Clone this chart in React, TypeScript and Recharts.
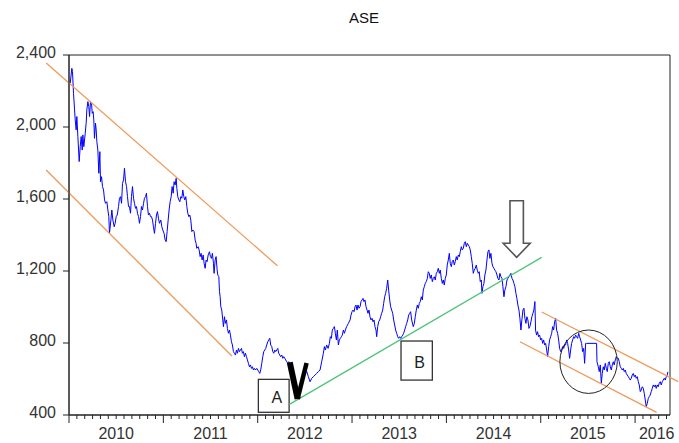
import React from 'react';
import { LineChart, Line, XAxis, YAxis, ReferenceLine, ReferenceArea, ReferenceDot } from 'recharts';

// ASE General Index (fractional year, index value)
const ase2010: [number, number][] = [
  [2010.013, 2243], [2010.030, 2326], [2010.037, 2308], [2010.048, 2187], [2010.059, 2095], [2010.066, 2039],
  [2010.076, 1984], [2010.083, 2058], [2010.094, 1947], [2010.108, 1808], [2010.119, 1891], [2010.129, 1947],
  [2010.140, 1872], [2010.147, 1956], [2010.157, 1891], [2010.172, 1965], [2010.182, 2021], [2010.189, 2095],
  [2010.200, 2141], [2010.210, 2113], [2010.218, 2058], [2010.228, 2141], [2010.239, 2132], [2010.246, 2076],
  [2010.256, 2085], [2010.263, 2039], [2010.270, 1937], [2010.281, 2021], [2010.288, 1984], [2010.295, 1919],
  [2010.306, 1872], [2010.316, 1743], [2010.327, 1863], [2010.334, 1696], [2010.345, 1724], [2010.355, 1669],
  [2010.366, 1650], [2010.377, 1595], [2010.387, 1576], [2010.401, 1585], [2010.412, 1539], [2010.422, 1502],
  [2010.429, 1409], [2010.444, 1483], [2010.454, 1539], [2010.465, 1483], [2010.479, 1446], [2010.489, 1465],
  [2010.500, 1502], [2010.511, 1511], [2010.525, 1558], [2010.535, 1604], [2010.546, 1613], [2010.557, 1576],
  [2010.567, 1687], [2010.578, 1706], [2010.588, 1771], [2010.599, 1696], [2010.610, 1669], [2010.620, 1613],
  [2010.631, 1558], [2010.641, 1558], [2010.652, 1521], [2010.662, 1613], [2010.673, 1669], [2010.684, 1604],
  [2010.694, 1576], [2010.705, 1548], [2010.715, 1558], [2010.726, 1521], [2010.737, 1502], [2010.747, 1465],
  [2010.758, 1502], [2010.768, 1558], [2010.779, 1539], [2010.790, 1576], [2010.800, 1604], [2010.811, 1613],
  [2010.821, 1632], [2010.832, 1558], [2010.842, 1511], [2010.853, 1521], [2010.864, 1502], [2010.874, 1502],
  [2010.885, 1483], [2010.895, 1446], [2010.906, 1409], [2010.917, 1465], [2010.927, 1511], [2010.938, 1530],
  [2010.948, 1493], [2010.959, 1465], [2010.973, 1483], [2010.984, 1446], [2010.994, 1428],
];
const ase2011: [number, number][] = [
  [2011.008, 1409], [2011.019, 1372], [2011.030, 1363], [2011.040, 1419], [2011.051, 1483], [2011.061, 1539],
  [2011.072, 1585], [2011.083, 1613], [2011.093, 1669], [2011.104, 1632], [2011.114, 1696], [2011.125, 1678],
  [2011.136, 1715], [2011.143, 1659], [2011.153, 1613], [2011.164, 1595], [2011.175, 1585], [2011.185, 1613],
  [2011.196, 1604], [2011.206, 1650], [2011.217, 1613], [2011.227, 1595], [2011.238, 1613], [2011.249, 1558],
  [2011.259, 1521], [2011.270, 1502], [2011.280, 1511], [2011.291, 1483], [2011.302, 1419], [2011.312, 1428],
  [2011.326, 1419], [2011.337, 1372], [2011.347, 1354], [2011.354, 1326], [2011.369, 1335], [2011.379, 1317],
  [2011.390, 1280], [2011.400, 1298], [2011.411, 1261], [2011.422, 1289], [2011.432, 1243], [2011.443, 1215],
  [2011.453, 1261], [2011.464, 1252], [2011.475, 1289], [2011.489, 1307], [2011.499, 1280], [2011.510, 1270],
  [2011.520, 1298], [2011.531, 1243], [2011.538, 1187], [2011.549, 1261], [2011.559, 1280], [2011.570, 1206],
  [2011.577, 1178], [2011.588, 1169], [2011.595, 1085], [2011.602, 1057], [2011.609, 1002], [2011.619, 983],
  [2011.630, 928], [2011.637, 891], [2011.648, 946], [2011.658, 909], [2011.669, 928], [2011.679, 881],
  [2011.690, 854], [2011.701, 872], [2011.711, 844], [2011.722, 807], [2011.732, 789], [2011.743, 752],
  [2011.753, 743], [2011.764, 733], [2011.775, 761], [2011.785, 743], [2011.796, 770], [2011.806, 752],
  [2011.817, 761], [2011.828, 770], [2011.838, 743], [2011.849, 752], [2011.859, 724], [2011.870, 743],
  [2011.881, 724], [2011.891, 706], [2011.902, 687], [2011.912, 668], [2011.923, 678], [2011.934, 659],
  [2011.944, 668], [2011.955, 650], [2011.965, 659], [2011.976, 650], [2011.990, 659],
];
const ase2012: [number, number][] = [
  [2012.001, 650], [2012.011, 641], [2012.022, 631], [2012.032, 650], [2012.043, 687], [2012.054, 724],
  [2012.064, 752], [2012.075, 761], [2012.085, 770], [2012.096, 789], [2012.107, 807], [2012.117, 817],
  [2012.128, 826], [2012.138, 789], [2012.149, 780], [2012.160, 752], [2012.170, 743], [2012.181, 761],
  [2012.191, 752], [2012.202, 761], [2012.213, 770], [2012.223, 743], [2012.234, 733], [2012.244, 724],
  [2012.255, 733], [2012.266, 715], [2012.276, 724], [2012.287, 715], [2012.297, 706], [2012.308, 696],
  [2012.319, 687], [2012.329, 696], [2012.340, 691], [2012.360, 640], [2012.380, 575], [2012.400, 525],
  [2012.423, 489], [2012.445, 540], [2012.465, 590], [2012.485, 640], [2012.502, 631], [2012.520, 641],
  [2012.537, 613], [2012.555, 585], [2012.573, 604], [2012.590, 613], [2012.608, 622], [2012.625, 631],
  [2012.643, 641], [2012.661, 650], [2012.678, 696], [2012.696, 743], [2012.707, 780], [2012.717, 761],
  [2012.731, 789], [2012.746, 770], [2012.760, 798], [2012.770, 835], [2012.781, 826], [2012.791, 872],
  [2012.802, 881], [2012.813, 891], [2012.823, 854], [2012.834, 817], [2012.844, 872], [2012.855, 789],
  [2012.866, 817], [2012.876, 826], [2012.887, 835], [2012.897, 844], [2012.908, 872], [2012.919, 854],
  [2012.929, 872], [2012.943, 891], [2012.961, 909], [2012.979, 928], [2012.989, 955],
];
const ase2013: [number, number][] = [
  [2013.000, 974], [2013.010, 983], [2013.021, 974], [2013.032, 1002], [2013.042, 1011], [2013.053, 983],
  [2013.063, 1011], [2013.074, 993], [2013.085, 1002], [2013.095, 1030], [2013.106, 1039], [2013.116, 1048],
  [2013.127, 1030], [2013.137, 1039], [2013.148, 1002], [2013.159, 983], [2013.169, 965], [2013.180, 983],
  [2013.190, 946], [2013.201, 928], [2013.212, 937], [2013.222, 918], [2013.233, 928], [2013.243, 891],
  [2013.254, 872], [2013.261, 835], [2013.272, 891], [2013.282, 918], [2013.293, 928], [2013.303, 946],
  [2013.314, 965], [2013.325, 983], [2013.335, 1020], [2013.346, 1057], [2013.356, 1076], [2013.367, 1104],
  [2013.378, 1150], [2013.388, 1094], [2013.399, 1039], [2013.409, 1002], [2013.420, 983], [2013.431, 965],
  [2013.441, 928], [2013.452, 900], [2013.462, 872], [2013.473, 854], [2013.484, 835], [2013.494, 826],
  [2013.505, 835], [2013.515, 826], [2013.526, 835], [2013.537, 844], [2013.547, 854], [2013.558, 872],
  [2013.568, 891], [2013.579, 909], [2013.590, 928], [2013.600, 955], [2013.611, 965], [2013.621, 974],
  [2013.632, 928], [2013.649, 891], [2013.660, 909], [2013.670, 946], [2013.681, 983], [2013.692, 1011],
  [2013.702, 993], [2013.713, 1020], [2013.723, 1030], [2013.734, 1057], [2013.745, 1039], [2013.755, 1094],
  [2013.766, 1113], [2013.776, 1131], [2013.787, 1141], [2013.798, 1159], [2013.808, 1196], [2013.819, 1187],
  [2013.829, 1159], [2013.840, 1178], [2013.851, 1141], [2013.861, 1159], [2013.872, 1168], [2013.882, 1150],
  [2013.893, 1187], [2013.904, 1196], [2013.914, 1215], [2013.925, 1187], [2013.935, 1205], [2013.946, 1159],
  [2013.957, 1131], [2013.967, 1150], [2013.978, 1122], [2013.988, 1159], [2013.999, 1178],
];
const ase2014: [number, number][] = [
  [2014.009, 1233], [2014.020, 1261], [2014.031, 1298], [2014.041, 1243], [2014.052, 1224], [2014.062, 1252],
  [2014.073, 1261], [2014.084, 1233], [2014.094, 1252], [2014.105, 1280], [2014.115, 1261], [2014.126, 1289],
  [2014.137, 1280], [2014.147, 1307], [2014.158, 1335], [2014.168, 1317], [2014.179, 1326], [2014.190, 1354],
  [2014.200, 1363], [2014.211, 1335], [2014.221, 1354], [2014.232, 1344], [2014.243, 1335], [2014.253, 1317],
  [2014.264, 1280], [2014.274, 1243], [2014.285, 1187], [2014.295, 1205], [2014.306, 1215], [2014.317, 1233],
  [2014.327, 1205], [2014.338, 1187], [2014.348, 1196], [2014.359, 1141], [2014.370, 1150], [2014.377, 1076],
  [2014.387, 1113], [2014.398, 1131], [2014.408, 1178], [2014.419, 1205], [2014.430, 1261], [2014.440, 1307],
  [2014.451, 1317], [2014.461, 1270], [2014.472, 1298], [2014.483, 1243], [2014.493, 1224], [2014.504, 1215],
  [2014.514, 1205], [2014.525, 1196], [2014.536, 1178], [2014.546, 1159], [2014.557, 1150], [2014.567, 1187],
  [2014.578, 1168], [2014.589, 1159], [2014.599, 1113], [2014.610, 1057], [2014.620, 1094], [2014.631, 1113],
  [2014.642, 1150], [2014.652, 1159], [2014.663, 1168], [2014.673, 1178], [2014.684, 1187], [2014.695, 1159],
  [2014.705, 1150], [2014.716, 1131], [2014.726, 1113], [2014.737, 1076], [2014.747, 1048], [2014.758, 1011],
  [2014.769, 983], [2014.779, 937], [2014.790, 872], [2014.800, 928], [2014.811, 983], [2014.822, 993],
  [2014.832, 937], [2014.843, 909], [2014.853, 946], [2014.864, 928], [2014.875, 881], [2014.885, 891],
  [2014.896, 918], [2014.906, 946], [2014.917, 965], [2014.927, 983], [2014.938, 1030], [2014.945, 872],
  [2014.956, 844], [2014.966, 863], [2014.977, 835], [2014.988, 844],
];
const ase2015: [number, number][] = [
  [2014.999, 817], [2015.010, 826], [2015.020, 798], [2015.031, 817], [2015.041, 789], [2015.052, 798],
  [2015.063, 761], [2015.073, 724], [2015.084, 780], [2015.094, 817], [2015.105, 835], [2015.116, 854],
  [2015.126, 891], [2015.137, 872], [2015.147, 918], [2015.158, 937], [2015.168, 872], [2015.179, 854],
  [2015.190, 817], [2015.200, 770], [2015.211, 752], [2015.221, 761], [2015.232, 780], [2015.243, 770],
  [2015.253, 789], [2015.264, 789], [2015.274, 817], [2015.285, 798], [2015.296, 761], [2015.306, 715],
  [2015.317, 761], [2015.327, 798], [2015.338, 817], [2015.349, 835], [2015.359, 826], [2015.370, 844],
  [2015.380, 835], [2015.391, 826], [2015.402, 854], [2015.412, 835], [2015.423, 817], [2015.433, 798],
  [2015.444, 752], [2015.455, 770], [2015.465, 687], [2015.476, 798], [2015.486, 798], [2015.592, 798],
  [2015.596, 696], [2015.610, 668], [2015.620, 641], [2015.631, 678], [2015.642, 576], [2015.652, 631],
  [2015.663, 668], [2015.673, 650], [2015.684, 687], [2015.695, 659], [2015.705, 641], [2015.716, 687],
  [2015.726, 696], [2015.737, 668], [2015.748, 650], [2015.758, 678], [2015.769, 696], [2015.779, 678],
  [2015.790, 706], [2015.801, 724], [2015.811, 715], [2015.822, 715], [2015.832, 696], [2015.843, 668],
  [2015.854, 659], [2015.864, 650], [2015.875, 659], [2015.885, 641], [2015.896, 650], [2015.906, 631],
  [2015.917, 622], [2015.928, 613], [2015.938, 604], [2015.949, 594], [2015.959, 604], [2015.970, 622],
  [2015.981, 631], [2015.991, 613],
];
const ase2016: [number, number][] = [
  [2016.002, 622], [2016.012, 604], [2016.023, 613], [2016.034, 585], [2016.044, 567], [2016.055, 530],
  [2016.065, 539], [2016.076, 557], [2016.087, 548], [2016.097, 520], [2016.108, 483], [2016.118, 446],
  [2016.129, 465], [2016.140, 492], [2016.150, 502], [2016.161, 511], [2016.171, 530], [2016.182, 548],
  [2016.193, 567], [2016.203, 557], [2016.214, 567], [2016.224, 548], [2016.235, 567], [2016.245, 557],
  [2016.256, 576], [2016.267, 585], [2016.277, 567], [2016.288, 585], [2016.298, 594], [2016.309, 604],
  [2016.320, 594], [2016.330, 613], [2016.341, 622], [2016.348, 640],
];

// Axes
const yearLabels = ['2010', '2011', '2012', '2013', '2014', '2015', '2016'];
const yTicks = [400, 800, 1200, 1600, 2000, 2400];
const xDomain: [number, number] = [2010, 2016.37];
const yDomain: [number, number] = [400, 2400];
const monthTicks = Array.from({ length: 77 }, (_, k) => 2010 + k / 12);

// Hand-drawn annotations (data coordinates)
const channelLines: [number, number, number, number][] = [
  [2009.758, 2356, 2012.209, 1229],
  [2009.758, 1761, 2011.726, 728],
  [2015.010, 972, 2016.457, 585],
  [2014.780, 807, 2016.228, 415],
];
const trendLine: [number, number, number, number] = [2012.336, 459, 2015.010, 1276];
const vMark: [number, number][] = [[2012.340, 692], [2012.423, 489], [2012.518, 689]];
const boxes = [
  { name: 'A', x1: 2012.007, x2: 2012.333, y1: 415, y2: 598 },
  { name: 'B', x1: 2013.519, x2: 2013.851, y1: 594, y2: 811 },
];
const circleCenter: [number, number] = [2015.507, 696];
const arrowTip: [number, number] = [2014.745, 1276];

const data = [...ase2010, ...ase2011, ...ase2012, ...ase2013, ...ase2014, ...ase2015, ...ase2016].map(
  ([t, v]) => ({ t, v })
);

const FONT = '"Liberation Sans", Arial, Helvetica, sans-serif';
const AXIS = '#222';

function XTick(props: any) {
  const { x, y, payload } = props;
  const k = Math.round((payload.value - 2010) * 12);
  const m = k % 12;
  const yr = Math.floor(k / 12);
  let label: string | null = null;
  let dx = 0;
  if (m === 6) label = yearLabels[yr];
  if (yr === yearLabels.length - 1 && m === 3) {
    label = yearLabels[yr];
    dx = -2;
  }
  return (
    <g>
      <line x1={x} x2={x} y1={y} y2={y + (m === 0 ? 8 : 4)} stroke={AXIS} strokeWidth={1} />
      {label && (
        <text x={x + dx} y={y + 24} textAnchor="middle" fontSize={16} fontFamily={FONT} fill="#333">
          {label}
        </text>
      )}
    </g>
  );
}

function YTick(props: any) {
  const { x, y, payload } = props;
  return (
    <text x={x} y={y + 3.2} textAnchor="end" fontSize={16} fontFamily={FONT} fill="#333">
      {Number(payload.value).toLocaleString('en-US')}
    </text>
  );
}

function BoxShape(name: string) {
  return (p: any) => {
    const { x, y, width, height } = p;
    return (
      <g>
        <rect x={x} y={y} width={width} height={height} fill="#fff" stroke="#333" strokeWidth={1.3} />
        <text
          x={x + width / 2 + 3}
          y={y + height / 2 + 1.5 + 5.7}
          textAnchor="middle"
          fontSize={16}
          fontFamily={FONT}
          fill="#222"
        >
          {name}
        </text>
      </g>
    );
  };
}

const CircleShape = (p: any) => (
  <ellipse cx={p.cx} cy={p.cy} rx={28.7} ry={31.7} fill="none" stroke="#222" strokeWidth={1} />
);

const ArrowShape = (p: any) => {
  const { cx, cy } = p;
  const d = `M${cx},${cy} L${cx - 13.5},${cy - 14} L${cx - 6.7},${cy - 14} L${cx - 6.7},${cy - 56.5} L${cx + 6.7},${cy - 56.5} L${cx + 6.7},${cy - 14} L${cx + 13.5},${cy - 14} Z`;
  return <path d={d} fill="#fff" stroke="#555" strokeWidth={1.6} strokeLinejoin="miter" />;
};

export default function App() {
  return (
    <div style={{ position: 'absolute', left: 0, top: 0, width: 679, height: 443, background: '#fff' }}>
      <div
        style={{
          position: 'absolute',
          left: 314,
          top: 9,
          width: 100,
          textAlign: 'center',
          fontFamily: FONT,
          fontSize: 15,
          lineHeight: '17px',
          color: '#111',
        }}
      >
        ASE
      </div>
      <LineChart width={679} height={443} data={data} margin={{ top: 55, right: 9, bottom: 0, left: 0 }}>
        <XAxis
          dataKey="t"
          type="number"
          domain={xDomain}
          allowDataOverflow
          ticks={monthTicks}
          interval={0}
          tick={<XTick />}
          tickLine={false}
          tickSize={0}
          tickMargin={0}
          axisLine={{ stroke: AXIS }}
          height={28}
        />
        <YAxis
          type="number"
          domain={yDomain}
          allowDataOverflow
          ticks={yTicks}
          interval={0}
          tick={<YTick />}
          tickSize={6}
          tickMargin={7}
          tickLine={{ stroke: AXIS }}
          axisLine={{ stroke: AXIS }}
          width={69}
        />
        <ReferenceArea
          x1={xDomain[0]}
          x2={xDomain[1]}
          y1={yDomain[0]}
          y2={yDomain[1]}
          fill="none"
          fillOpacity={0}
          stroke={AXIS}
          strokeWidth={1}
          ifOverflow="visible"
        />
        <Line
          type="linear"
          dataKey="v"
          stroke="#0000FF"
          strokeWidth={1}
          dot={false}
          activeDot={false}
          isAnimationActive={false}
        />
        {channelLines.map(([xa, ya, xb, yb], i) => (
          <ReferenceLine
            key={'ch' + i}
            segment={[{ x: xa, y: ya }, { x: xb, y: yb }]}
            stroke="#EE9A5C"
            strokeWidth={1.3}
            ifOverflow="visible"
          />
        ))}
        <ReferenceLine
          segment={[{ x: trendLine[0], y: trendLine[1] }, { x: trendLine[2], y: trendLine[3] }]}
          stroke="#4CC47A"
          strokeWidth={1.3}
          ifOverflow="visible"
        />
        <ReferenceLine
          segment={[{ x: vMark[0][0], y: vMark[0][1] }, { x: vMark[1][0], y: vMark[1][1] }]}
          stroke="#000"
          strokeWidth={6}
          ifOverflow="visible"
        />
        <ReferenceLine
          segment={[{ x: vMark[1][0], y: vMark[1][1] }, { x: vMark[2][0], y: vMark[2][1] }]}
          stroke="#000"
          strokeWidth={4.5}
          ifOverflow="visible"
        />
        {boxes.map((b) => (
          <ReferenceArea
            key={b.name}
            x1={b.x1}
            x2={b.x2}
            y1={b.y1}
            y2={b.y2}
            ifOverflow="visible"
            shape={BoxShape(b.name)}
          />
        ))}
        <ReferenceDot x={circleCenter[0]} y={circleCenter[1]} r={30} ifOverflow="visible" shape={CircleShape} />
        <ReferenceDot x={arrowTip[0]} y={arrowTip[1]} r={14} ifOverflow="visible" shape={ArrowShape} />
      </LineChart>
    </div>
  );
}
